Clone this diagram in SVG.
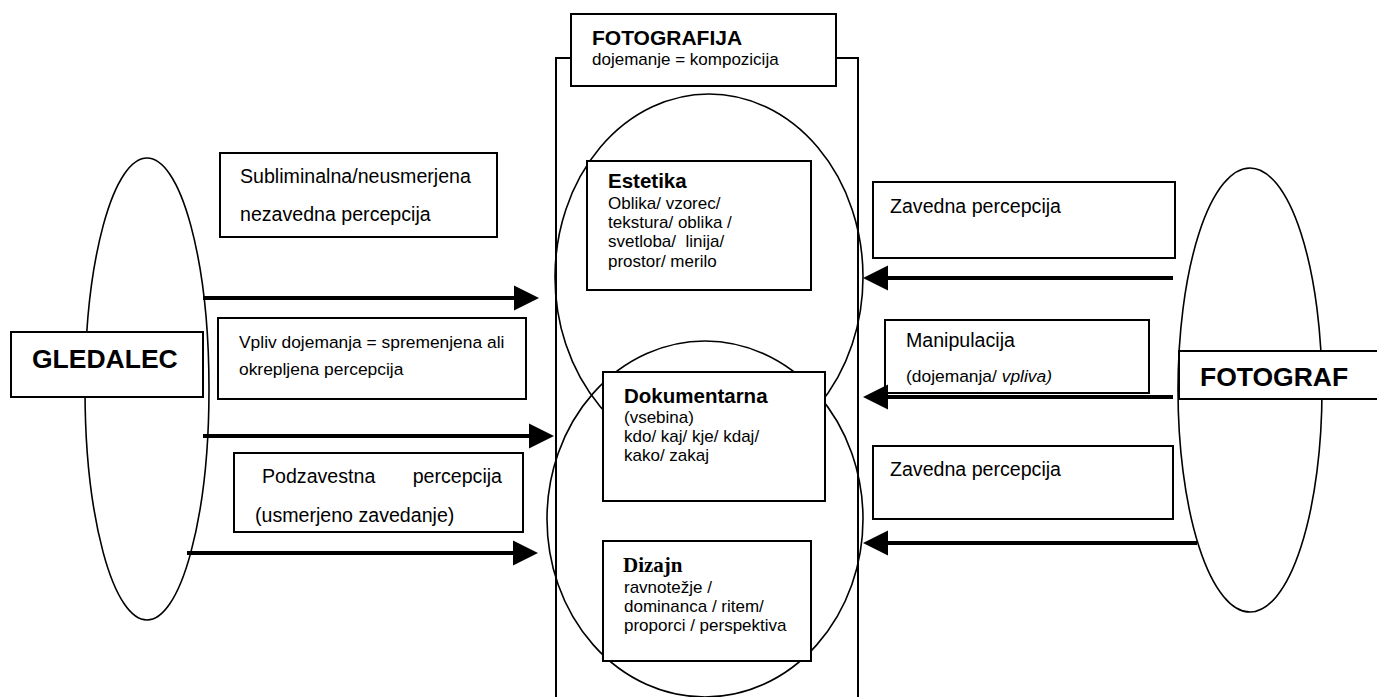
<svg xmlns="http://www.w3.org/2000/svg" width="1377" height="697" viewBox="0 0 1377 697">
<style>
.bx{fill:#fff;stroke:#000;stroke-width:2}
.el{fill:none;stroke:#000;stroke-width:1.6}
.t{font-family:"Liberation Sans",Arial,sans-serif;fill:#000;white-space:pre}
.big{font-size:19.6px}
.mid{font-size:17.4px}
.sm{font-size:17px}
.hb{font-size:20.5px;font-weight:bold}
.hh{font-size:26.5px;font-weight:bold}
.ar{stroke:#000;stroke-width:4;fill:none}
</style>
<defs>
<marker id="ah" markerUnits="userSpaceOnUse" markerWidth="26" markerHeight="26" viewBox="0 0 26 26" refX="1" refY="13" orient="auto">
<path d="M0,0.5 L25,13 L0,25.5 Z" fill="#000"/>
</marker>
<clipPath id="mclip"><rect x="885" y="320" width="264" height="71"/></clipPath>
</defs>

<g id="column">
<rect x="556" y="58" width="302" height="700" fill="none" stroke="#000" stroke-width="2"/>
</g>
<g id="circles">
<ellipse class="el" cx="709" cy="277" rx="154" ry="183"/>
<ellipse class="el" cx="705" cy="519" rx="158" ry="178"/>
</g>

<g id="fotografija">
<rect class="bx" x="571" y="14" width="265" height="72"/>
<text class="t" x="592" y="45" style="font-size:21px;font-weight:bold">FOTOGRAFIJA</text>
<text class="t sm" x="592" y="65">dojemanje = kompozicija</text>
</g>

<g id="estetika">
<rect class="bx" x="587" y="161" width="224" height="129"/>
<text class="t hb" x="608" y="188">Estetika</text>
<text class="t sm" x="608" y="209">Oblika/ vzorec/</text>
<text class="t sm" x="608" y="228">tekstura/ oblika /</text>
<text class="t sm" x="608" y="247">svetloba/  linija/</text>
<text class="t sm" x="608" y="267">prostor/ merilo</text>
</g>

<g id="dokumentarna">
<rect class="bx" x="603" y="372" width="222" height="129"/>
<text class="t hb" x="624" y="403">Dokumentarna</text>
<text class="t sm" x="624" y="423">(vsebina)</text>
<text class="t sm" x="624" y="442">kdo/ kaj/ kje/ kdaj/</text>
<text class="t sm" x="624" y="461">kako/ zakaj</text>
</g>

<g id="dizajn">
<rect class="bx" x="603" y="541" width="208" height="120"/>
<text x="623" y="572" style="font-family:'Liberation Serif','Times New Roman',serif;font-size:21px;font-weight:bold">Dizajn</text>
<text class="t sm" x="624" y="593">ravnotežje /</text>
<text class="t sm" x="624" y="612">dominanca / ritem/</text>
<text class="t sm" x="624" y="631">proporci / perspektiva</text>
</g>

<g id="gledalec">
<ellipse class="el" cx="147" cy="389" rx="62" ry="231"/>
<rect class="bx" x="11" y="332" width="192" height="65"/>
<text class="t hh" x="32" y="368">GLEDALEC</text>
</g>

<g id="fotograf">
<ellipse class="el" cx="1250" cy="390" rx="72" ry="222"/>
<rect class="bx" x="1179" y="351" width="210" height="48"/>
<text class="t hh" x="1200" y="386">FOTOGRAF</text>
</g>

<g id="subliminalna">
<rect class="bx" x="220" y="153" width="277" height="84"/>
<text class="t big" x="240" y="183">Subliminalna/neusmerjena</text>
<text class="t big" x="240" y="221">nezavedna percepcija</text>
</g>

<g id="vpliv">
<rect class="bx" x="218" y="318" width="308" height="81"/>
<text class="t mid" x="239" y="348">Vpliv dojemanja = spremenjena ali</text>
<text class="t mid" x="239" y="375">okrepljena percepcija</text>
</g>

<g id="podzavestna">
<rect class="bx" x="234" y="453" width="289" height="79"/>
<text class="t big" x="262" y="483">Podzavestna</text>
<text class="t big" x="502" y="483" text-anchor="end">percepcija</text>
<text class="t big" x="255" y="522">(usmerjeno zavedanje)</text>
</g>

<g id="zavedna1">
<rect class="bx" x="873" y="182" width="302" height="76"/>
<text class="t big" x="890" y="213">Zavedna percepcija</text>
</g>

<g id="manipulacija">
<rect class="bx" x="885" y="320" width="264" height="73"/>
<text class="t big" x="906" y="347">Manipulacija</text>
<text class="t mid" x="906" y="382" clip-path="url(#mclip)">(dojemanja/ <tspan font-style="italic">vpliva)</tspan></text>
</g>

<g id="zavedna2">
<rect class="bx" x="873" y="446" width="300" height="73"/>
<text class="t big" x="890" y="476">Zavedna percepcija</text>
</g>

<g id="connectors">
<path class="ar" d="M203,298 H515" marker-end="url(#ah)"/>
<path class="ar" d="M203,436 H530" marker-end="url(#ah)"/>
<path class="ar" d="M187,553 H514" marker-end="url(#ah)"/>
<path class="ar" d="M1173,278 H887" marker-end="url(#ah)"/>
<path class="ar" d="M1173,397 H887" marker-end="url(#ah)"/>
<path class="ar" d="M1197,543 H887" marker-end="url(#ah)"/>
</g>
</svg>
